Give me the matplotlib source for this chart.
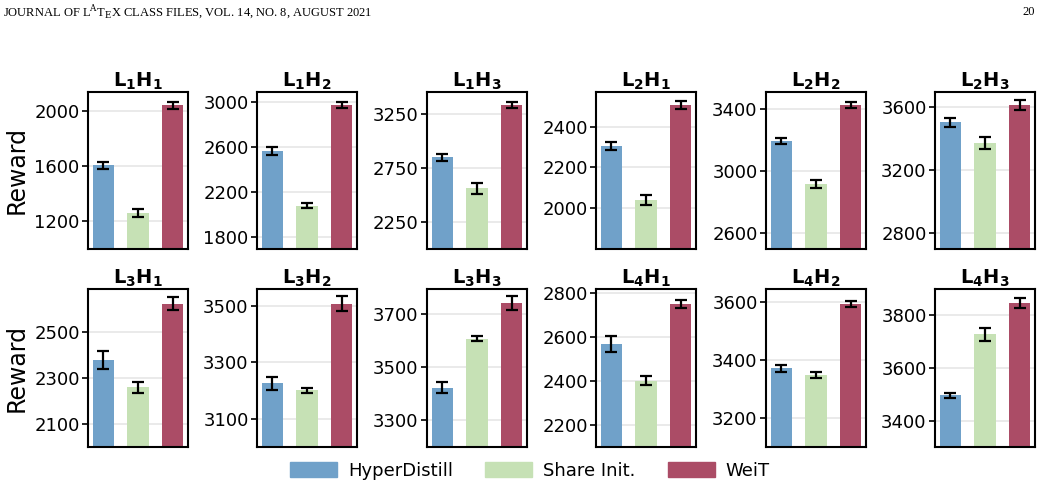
import numpy as np
import matplotlib
matplotlib.use("Agg")
import matplotlib.pyplot as plt
from matplotlib.patches import Patch

plt.rcParams['font.family'] = ['DejaVu Sans']
plt.rcParams['mathtext.fontset'] = 'custom'
plt.rcParams['mathtext.rm'] = 'DejaVu Sans'
plt.rcParams['mathtext.bf'] = 'DejaVu Sans:bold'

# Panel titles (L = layers, H = heads)
titles = ["L_1H_1", "L_1H_2", "L_1H_3", "L_2H_1", "L_2H_2", "L_2H_3",
          "L_3H_1", "L_3H_2", "L_3H_3", "L_4H_1", "L_4H_2", "L_4H_3"]
methods = ["HyperDistill", "Share Init.", "WeiT"]

hd = [1604, 2562, 2849, 2307, 3195, 3501, 2379, 3225, 3423, 2569, 3372, 3495]
hd_err = [24, 34, 32, 18, 19, 28, 40, 24, 21, 37, 13, 10]
si = [1258, 2076, 2562, 2038, 2916, 3368, 2261, 3200, 3609, 2403, 3349, 3727]
si_err = [28, 22, 49, 24, 27, 37, 24, 10, 11, 21, 10, 25]
weit = [2039, 2968, 3333, 2511, 3428, 3608, 2624, 3507, 3743, 2751, 3594, 3844]
weit_err = [25, 27, 28, 22, 20, 32, 28, 27, 25, 17, 11, 19]

ylims = [(1000, 2135), (1694, 3086), (2000, 3454), (1794, 2576),
         (2495, 3512), (2697, 3692), (2000, 2688), (3000, 3559),
         (3200, 3796), (2100, 2820), (3100, 3646), (3300, 3898)]
yticks = [[1200, 1600, 2000], [1800, 2200, 2600, 3000], [2250, 2750, 3250],
          [2000, 2200, 2400], [2600, 3000, 3400], [2800, 3200, 3600],
          [2100, 2300, 2500], [3100, 3300, 3500], [3300, 3500, 3700],
          [2200, 2400, 2600, 2800], [3200, 3400, 3600], [3400, 3600, 3800]]

colors = ["#70a1c9", "#c6e1b5", "#ab4c66"]

W, H = 1041, 491
fig = plt.figure(figsize=(W / 100, H / 100), dpi=100)

col_left = [88, 257, 427, 596, 766, 935]
ax_w = 100
rows = [(92, 249), (289, 447)]

for i in range(12):
    r, c = divmod(i, 6)
    top, bot = rows[r]
    ax = fig.add_axes([col_left[c] / W, 1 - bot / H, ax_w / W, (bot - top) / H])
    vals = [hd[i], si[i], weit[i]]
    errs = [hd_err[i], si_err[i], weit_err[i]]
    x = np.arange(3)
    ax.bar(x, vals, width=0.62, color=colors, zorder=2)
    ax.errorbar(x, vals, yerr=errs, fmt='none', ecolor='black',
                elinewidth=1.6, capsize=4, capthick=1.6, zorder=3)
    ax.set_ylim(*ylims[i])
    ax.set_yticks(yticks[i])
    ax.set_xticks([])
    ax.grid(axis='y', color='#e6e6e6', linewidth=1.2, zorder=0)
    ax.tick_params(axis='y', labelsize=13, length=4, width=1.2, pad=2)
    for s in ax.spines.values():
        s.set_linewidth(1.5)
    ax.set_title(r"$\mathbf{" + titles[i] + "}$", fontsize=14, pad=4)
    if c == 0:
        ax.set_ylabel("Reward", fontsize=17)

handles = [Patch(color=colors[k], label=methods[k]) for k in range(3)]
fig.legend(handles=handles, loc='center', bbox_to_anchor=(530 / W, 1 - 471 / H),
           ncol=3, frameon=False, fontsize=13, handlelength=2.6,
           handleheight=0.9, columnspacing=1.8, handletextpad=0.6)

fig.text(3 / W, 1 - 12 / H,
         r"JOURNAL OF L$^{\rm A}$T$_{\rm E}$X CLASS FILES, VOL. 14, NO. 8, AUGUST 2021",
         family='Liberation Serif', fontsize=9, va='center', ha='left',
         math_fontfamily='dejavuserif')
fig.text(1035 / W, 1 - 12 / H, "20", family='Liberation Serif', fontsize=9,
         va='center', ha='right')

fig.savefig("out.png", dpi=100)
